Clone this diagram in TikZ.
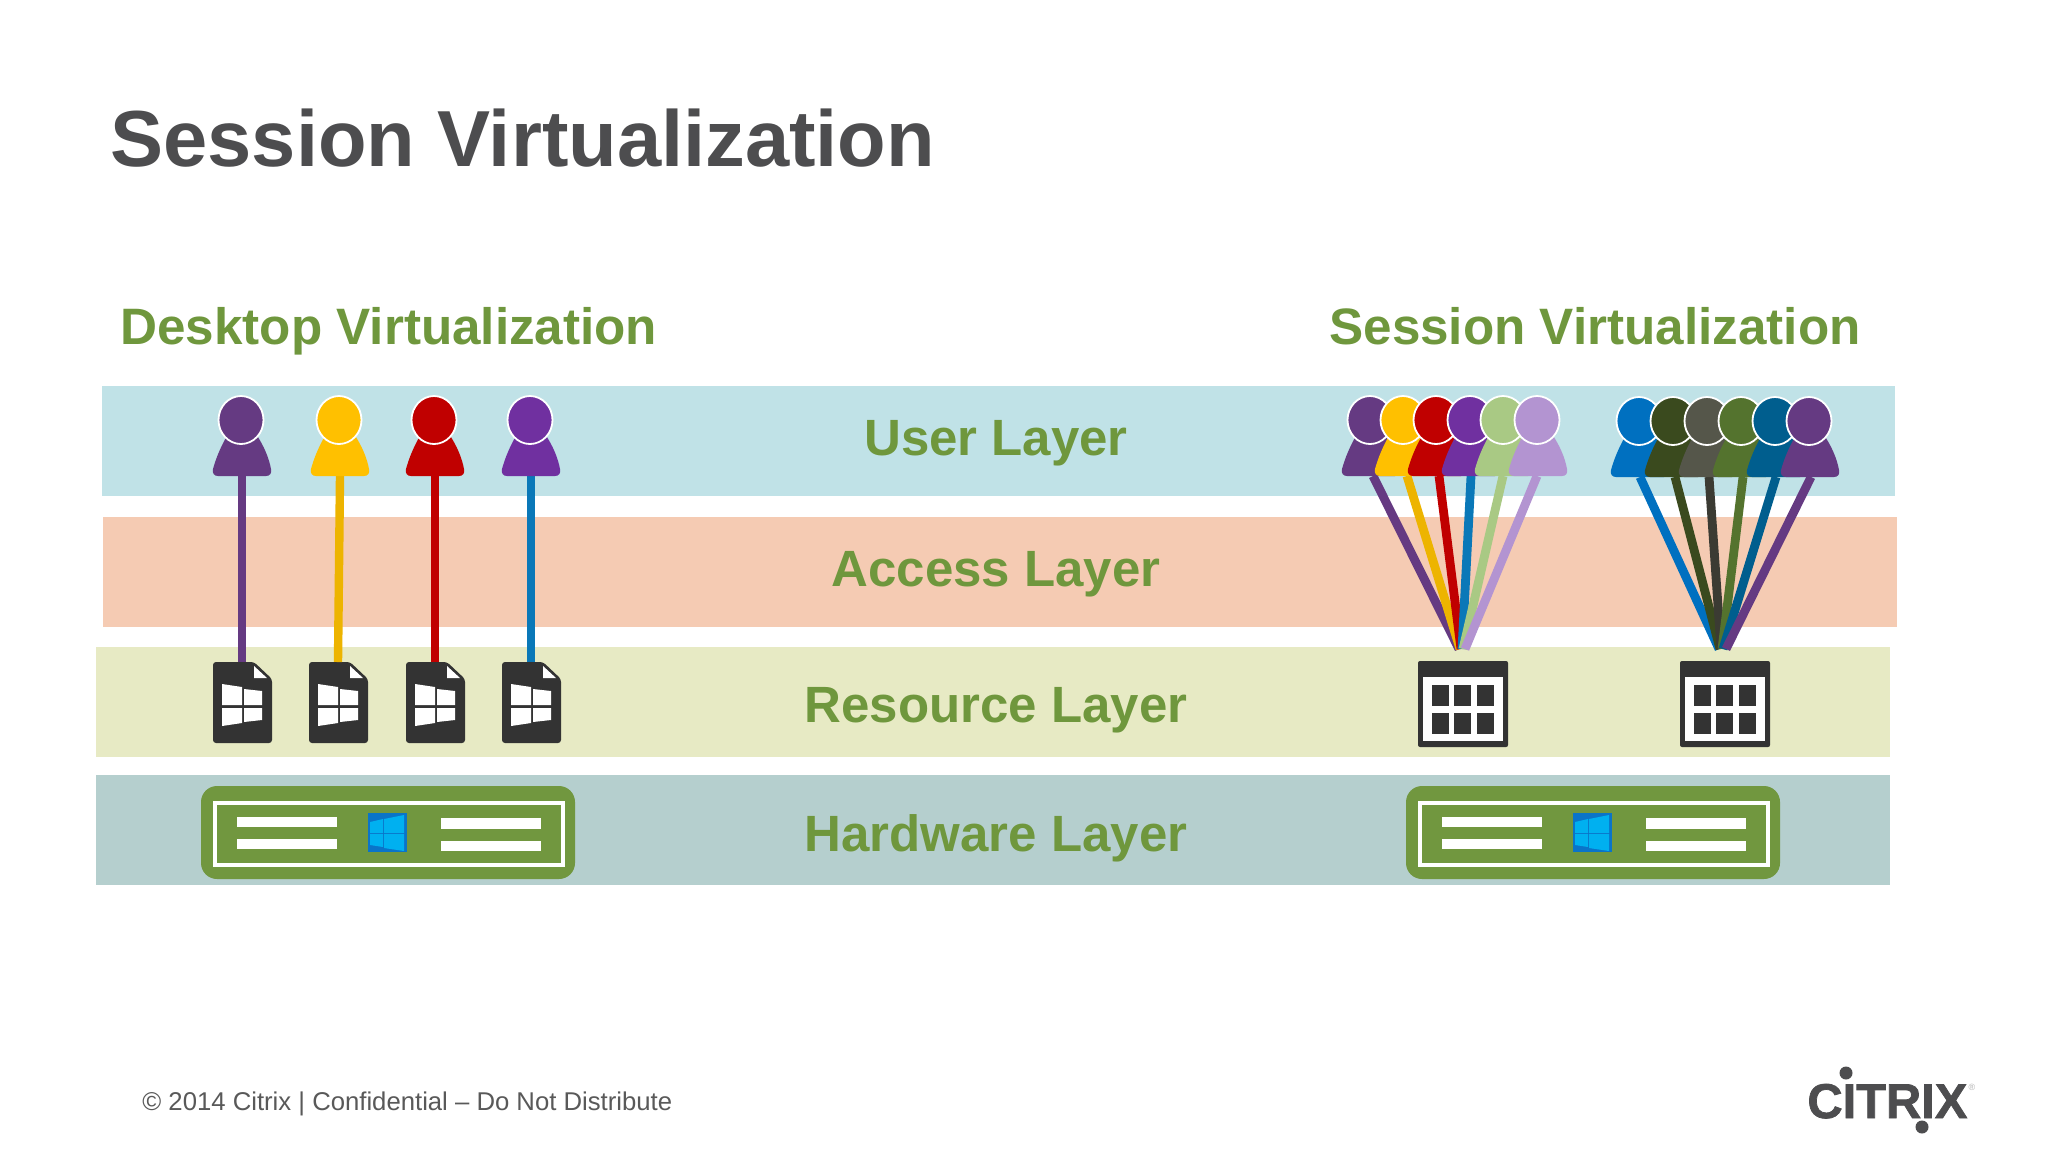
\documentclass[tikz,border=0pt]{standalone}
\usepackage{fontspec}
\setmainfont{Liberation Sans}
\newfontfamily\logofont[BoldFeatures={FakeBold=1.5}]{Liberation Sans}
\usetikzlibrary{shapes.geometric}
\definecolor{bandUser}{HTML}{C0E2E7}
\definecolor{bandAccess}{HTML}{F5CBB3}
\definecolor{bandRes}{HTML}{E7EAC4}
\definecolor{bandHw}{HTML}{B5CFCE}
\definecolor{txtGreen}{HTML}{6F973D}
\definecolor{srvGreen}{HTML}{71973F}
\definecolor{ink}{HTML}{333333}
\definecolor{titleGray}{HTML}{4D4D4F}
\definecolor{footGray}{HTML}{595959}
\definecolor{cPurpleA}{HTML}{653A82}
\definecolor{cYellow}{HTML}{FFC000}
\definecolor{cYellowLine}{HTML}{EDB400}
\definecolor{cRed}{HTML}{C00000}
\definecolor{cPurpleB}{HTML}{7030A0}
\definecolor{cLineBlue}{HTML}{0A78B8}
\definecolor{cLightGreen}{HTML}{A9C984}
\definecolor{cLilac}{HTML}{B394D1}
\definecolor{cBlue}{HTML}{0070C0}
\definecolor{cDarkGreen}{HTML}{3A4A1E}
\definecolor{cGrayGreen}{HTML}{55564A}
\definecolor{cLineDark}{HTML}{3B3B33}
\definecolor{cMidGreen}{HTML}{54732E}
\definecolor{cDeepBlue}{HTML}{005E8E}
\definecolor{winDark}{HTML}{0A74C8}
\definecolor{winLight}{HTML}{00B0F0}
\tikzset{
  layerlabel/.style={font=\fontsize{25.5}{30}\selectfont\bfseries,text=txtGreen,anchor=base,inner sep=0pt},
  subtitle/.style={font=\fontsize{25.6}{30}\selectfont\bfseries,text=txtGreen,anchor=base west,inner sep=0pt},
  head/.style={ellipse,draw=white,line width=.9pt,minimum width=22.5pt,minimum height=24pt,inner sep=0pt},
  wire/.style={line width=4.2pt,line cap=butt},
  fan/.style={line width=4.4pt,line cap=butt},
  barw/.style={fill=white,draw=none}
}
\newcommand{\personfig}[4]{%
  \begin{scope}[shift={(#2,#3)}]
    \fill[#4] (-23,56) -- (25,56) .. controls (29,56) and (31,53) .. (30,49)
      .. controls (28,38) and (23,26) .. (15,14) -- (-13,14)
      .. controls (-20,26) and (-25,38) .. (-28,49) .. controls (-29,53) and (-27,56) .. (-23,56) -- cycle;
    \node[head,fill=#4] (#1) at (0,0) {};
  \end{scope}}
\newcommand{\docfig}[3]{%
  \begin{scope}[shift={(#2,#3)}]
    \node[inner sep=0pt] (#1) at (29,40) {};
    \coordinate (#1-top) at (29,0);
    \fill[ink,rounded corners=1.5pt] (0,0) -- (41,0) -- (59,17) -- (59,81) -- (0,81) -- cycle;
    \fill[white] (41,4) -- (41,16) -- (54,16) -- cycle;
    \fill[white] (9,22) -- (29,25) -- (29,43) -- (9,43) -- cycle;
    \fill[white] (31,27) -- (49,29) -- (49,43) -- (31,43) -- cycle;
    \fill[white] (9,46) -- (29,46) -- (29,61) -- (9,64) -- cycle;
    \fill[white] (31,46) -- (49,46) -- (49,58) -- (31,60) -- cycle;
  \end{scope}}
\newcommand{\gridfig}[3]{%
  \begin{scope}[shift={(#2,#3)}]
    \node[inner sep=0pt] (#1) at (45,43) {};
    \fill[ink,rounded corners=1pt] (0,0) rectangle (90,86);
    \fill[white] (5,16) rectangle (85,80);
    \foreach \gx in {14,36,59}{
      \foreach \gy in {24,52}{
        \fill[ink] (\gx,\gy) rectangle ++(16.5,20.5);
      }
    }
  \end{scope}}
\newcommand{\serverfig}[3]{%
  \begin{scope}[shift={(#2,#3)}]
    \node[inner sep=0pt] (#1) at (187,46) {};
    \fill[srvGreen,rounded corners=8pt] (0,0) rectangle (374,93);
    \draw[white,line width=2.2pt] (14,17) rectangle (362,79);
    \fill[barw] (36,31) rectangle (136,41);
    \fill[barw] (36,53) rectangle (136,63);
    \fill[barw] (240,32) rectangle (340,43);
    \fill[barw] (240,55) rectangle (340,65);
    \begin{scope}[shift={(167,27)}]
      \fill[winDark] (0,0) rectangle (39,39);
      \fill[winLight] (2,9) -- (15,6) -- (15,20) -- (2,20) -- cycle;
      \fill[winLight] (16,6) -- (36,2) -- (36,20) -- (16,20) -- cycle;
      \fill[winLight] (2,21) -- (15,21) -- (15,34) -- (2,32) -- cycle;
      \fill[winLight] (16,21) -- (36,21) -- (36,38) -- (16,35) -- cycle;
    \end{scope}
  \end{scope}}
\begin{document}
\begin{tikzpicture}[x=.5pt,y=-.5pt]
\useasboundingbox (0,0) rectangle (2048,1152);
\fill[white] (0,0) rectangle (2048,1152);
% bands
\fill[bandUser] (102,386) rectangle (1895,496);
\fill[bandAccess] (103,517) rectangle (1897,627);
\fill[bandRes] (96,647) rectangle (1890,757);
\fill[bandHw] (96,775) rectangle (1890,885);
% texts
\node[font=\fontsize{39.75}{46}\selectfont\bfseries,text=titleGray,anchor=base west,inner sep=0pt] (title) at (110,166) {Session Virtualization};
\node[subtitle] (subL) at (120,344) {Desktop Virtualization};
\node[subtitle] (subR) at (1329,344) {Session Virtualization};
\node[layerlabel] (lUser) at (996,455) {User Layer};
\node[layerlabel] (lAccess) at (996,586) {Access Layer};
\node[layerlabel] (lRes) at (996,722) {Resource Layer};
\node[layerlabel] (lHw) at (996,851) {Hardware Layer};
\node[font=\fontsize{12.85}{16}\selectfont,text=footGray,anchor=base west,inner sep=0pt] (foot) at (142,1110) {© 2014 Citrix | Confidential – Do Not Distribute};
% logo
\node[font=\logofont\fontsize{24.4}{28}\selectfont\bfseries,text=titleGray,anchor=base west,inner sep=0pt] (logo) at (1807,1118) {CITRIX};
\fill[titleGray] (1846,1073) circle (6.5);
\fill[titleGray] (1922,1127) circle (6.5);
\node[font=\fontsize{4.5}{5}\selectfont,text=gray!60,inner sep=0pt] (reg) at (1972,1087) {®};
% connector ends
\foreach \i/\ex in {1/1459,2/1460,3/1461,4/1462,5/1463,6/1465}{\coordinate (ga-in\i) at (\ex,649);}
\foreach \i/\ex in {1/1719,2/1720,3/1721,4/1722,5/1723,6/1726}{\coordinate (gb-in\i) at (\ex,649);}
\foreach \n/\px in {u1/242,u2/340,u3/435,u4/531}{\coordinate (\n-foot) at (\px,476);}
\foreach \n/\px in {a1/1373,a2/1407,a3/1439,a4/1471,a5/1503,a6/1537}{\coordinate (\n-foot) at (\px,476);}
\foreach \n/\px in {b1/1640,b2/1675,b3/1709,b4/1743,b5/1776,b6/1811}{\coordinate (\n-foot) at (\px,477);}
% icons
\docfig{d1}{213}{662}
\docfig{d2}{309}{662}
\docfig{d3}{406}{662}
\docfig{d4}{502}{662}
\gridfig{ga}{1418}{661}
\gridfig{gb}{1680}{661}
\serverfig{s1}{201}{786}
\serverfig{s2}{1406}{786}
% connectors
\draw[wire,cPurpleA] (u1-foot) -- (d1-top);
\draw[wire,cYellowLine] (u2-foot) -- (d2-top);
\draw[wire,cRed] (u3-foot) -- (d3-top);
\draw[wire,cLineBlue] (u4-foot) -- (d4-top);
\draw[fan,cPurpleA] (a1-foot) -- (ga-in1);
\draw[fan,cYellowLine] (a2-foot) -- (ga-in2);
\draw[fan,cRed] (a3-foot) -- (ga-in3);
\draw[fan,cLineBlue] (a4-foot) -- (ga-in4);
\draw[fan,cLightGreen] (a5-foot) -- (ga-in5);
\draw[fan,cLilac] (a6-foot) -- (ga-in6);
\draw[fan,cBlue] (b1-foot) -- (gb-in1);
\draw[fan,cDarkGreen] (b2-foot) -- (gb-in2);
\draw[fan,cLineDark] (b3-foot) -- (gb-in3);
\draw[fan,cMidGreen] (b4-foot) -- (gb-in4);
\draw[fan,cDeepBlue] (b5-foot) -- (gb-in5);
\draw[fan,cPurpleA] (b6-foot) -- (gb-in6);
% people
\personfig{u1}{241}{420}{cPurpleA}
\personfig{u2}{339}{420}{cYellow}
\personfig{u3}{434}{420}{cRed}
\personfig{u4}{530}{420}{cPurpleB}
\personfig{a1}{1370}{420}{cPurpleA}
\personfig{a2}{1403}{420}{cYellow}
\personfig{a3}{1436}{420}{cRed}
\personfig{a4}{1470}{420}{cPurpleB}
\personfig{a5}{1503}{420}{cLightGreen}
\personfig{a6}{1537}{420}{cLilac}
\personfig{b1}{1639}{421}{cBlue}
\personfig{b2}{1673}{421}{cDarkGreen}
\personfig{b3}{1707}{421}{cGrayGreen}
\personfig{b4}{1741}{421}{cMidGreen}
\personfig{b5}{1775}{421}{cDeepBlue}
\personfig{b6}{1809}{421}{cPurpleA}
\end{tikzpicture}
\end{document}
